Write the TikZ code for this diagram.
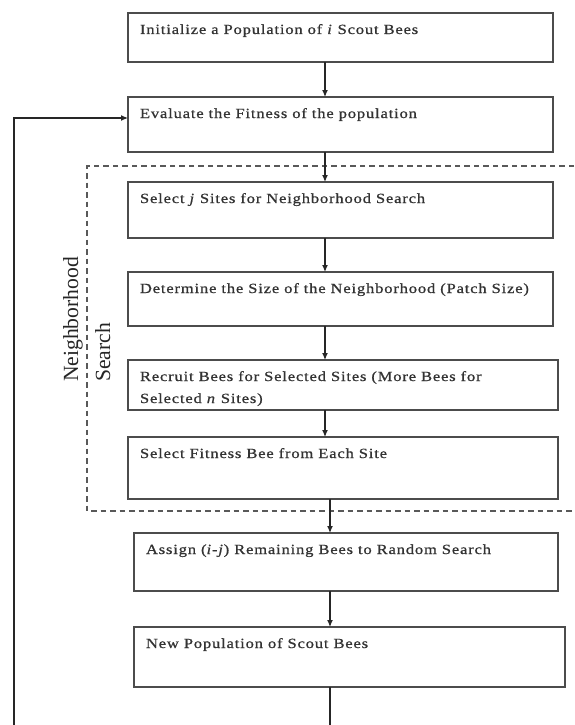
\documentclass[tikz,border=0pt]{standalone}
\usepackage{fontspec}
\setmainfont{Liberation Serif}
\newfontfamily\boxfont{Liberation Serif}[FakeStretch=1.18, LetterSpace=6, FakeBold=0.8]
\usetikzlibrary{arrows.meta}
\newcommand\flowbox[6]{%
  \node[fbox, anchor=north west] (#1) at (#2,#3)
   {\parbox[t][\dimexpr #5pt-#3pt\relax][t]{\dimexpr #4pt-#2pt\relax}%
     {\raggedright\leftskip=12pt\rule{0pt}{21pt}#6}};}
\begin{document}
\begin{tikzpicture}[x=1pt,y=-1pt,
  fbox/.style={draw=black!70, line width=1.5pt, inner sep=0pt, outer sep=0pt,
    font=\boxfont\fontsize{14}{22}\selectfont, text=black!80},
  conn/.style={draw=black!85, line width=1.2pt, -{Latex[length=7pt,width=6pt]}},
  plain/.style={draw=black!85, line width=1.2pt},
  dashbox/.style={draw=black!65, line width=1.3pt, dash pattern=on 5.5pt off 4pt},
  sidelabel/.style={rotate=90, anchor=north west, align=left, inner sep=0pt,
    font=\fontsize{21.6}{32}\selectfont, text=black!85}]
\fill[white] (0,0) rectangle (574,725);
\useasboundingbox (0,0) rectangle (574,725);

\flowbox{n1}{128}{13}{553}{62}{Initialize a Population of \textit{i} Scout Bees}
\flowbox{n2}{128}{97}{553}{152}{Evaluate the Fitness of the population}
\flowbox{n3}{128}{182}{553}{238}{Select \textit{j} Sites for Neighborhood Search}
\flowbox{n4}{128}{272}{553}{326}{Determine the Size of the Neighborhood (Patch Size)}
\flowbox{n5}{128}{360}{558}{410}{Recruit Bees for Selected Sites (More Bees for\\ Selected \textit{n} Sites)}
\flowbox{n6}{128}{437}{558}{499}{Select Fitness Bee from Each Site}
\flowbox{n7}{134}{533}{558}{591}{Assign (\textit{i-j}) Remaining Bees to Random Search}
\flowbox{n8}{134}{627}{565}{687}{New Population of Scout Bees}

% dashed neighborhood region
\draw[dashbox] (574,166) -- (87,166) -- (87,511) -- (574,511);
\node[sidelabel] (lab) at (63,382) {Neighborhood\\Search};

% arrows
\coordinate (ax) at (325,0);
\coordinate (bx) at (330,0);
\draw[conn] (n1.south -| ax) -- (n2.north -| ax);
\draw[conn] (n2.south -| ax) -- (n3.north -| ax);
\draw[conn] (n3.south -| ax) -- (n4.north -| ax);
\draw[conn] (n4.south -| ax) -- (n5.north -| ax);
\draw[conn] (n5.south -| ax) -- (n6.north -| ax);
\draw[conn] (n6.south -| bx) -- (n7.north -| bx);
\draw[conn] (n7.south -| bx) -- (n8.north -| bx);

\coordinate (nbot) at (330,725);
\draw[plain] (n8.south -| nbot) -- (nbot);

\coordinate (fbot) at (14,725);
\coordinate (fturn) at (14,118);
\draw[conn] (fbot) -- (fturn) -- (fturn -| n2.west);
\end{tikzpicture}
\end{document}
